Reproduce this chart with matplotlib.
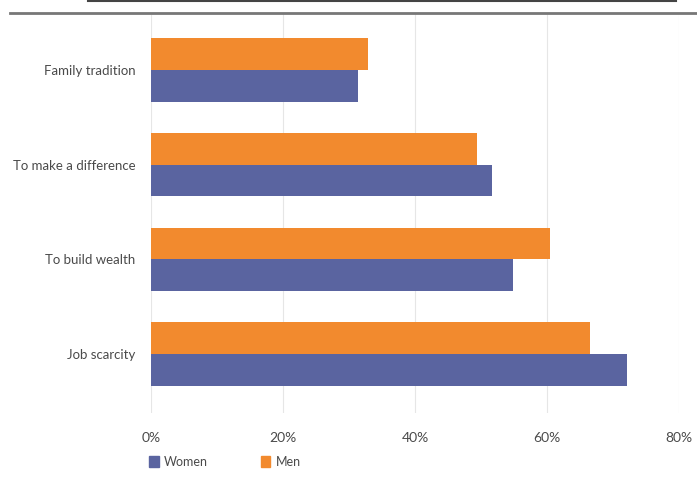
import matplotlib
matplotlib.use("Agg")
import matplotlib.pyplot as plt
from matplotlib.patches import Patch
from matplotlib.lines import Line2D
import numpy as np

categories = ["Family tradition", "To make a difference", "To build wealth", "Job scarcity"]
men = [32.9, 49.4, 60.5, 66.5]
women = [31.4, 51.7, 54.8, 72.1]
xticks = [0, 20, 40, 60, 80]
xtick_labels = ["0%", "20%", "40%", "60%", "80%"]

blue = "#5a64a0"
orange = "#f28a2e"
txt = "#4a4a4a"

plt.rcParams['font.family'] = ['Lato', 'DejaVu Sans']

fig = plt.figure(figsize=(6.97, 5.04), dpi=100)
W, H = 697, 504
ax = fig.add_axes([151 / W, 1 - 413 / H, (679 - 151) / W, 400 / H])

y = np.arange(len(categories))
h = 0.335
ax.barh(y - h / 2, men, height=h, color=orange, zorder=3)
ax.barh(y + h / 2, women, height=h, color=blue, zorder=3)

ax.set_xlim(0, 80)
ax.set_ylim(3.62, -0.6)
ax.set_xticks(xticks)
ax.set_xticklabels(xtick_labels)
ax.set_yticks(y)
ax.set_yticklabels(categories)
ax.grid(axis='x', color="#e6e6e6", linewidth=0.8, zorder=0)
for s in ax.spines.values():
    s.set_visible(False)
ax.tick_params(axis='y', length=0, colors=txt, labelsize=9.5, pad=11)
ax.tick_params(axis='x', length=0, colors=txt, labelsize=10, pad=14)
for lab in ax.get_xticklabels() + ax.get_yticklabels():
    lab.set_color(txt)

# top decorative lines
fig.add_artist(Line2D([10 / W, 1.0], [1 - 13 / H, 1 - 13 / H], color="#777777", linewidth=2.0))
fig.add_artist(Line2D([88 / W, 676 / W], [1 - 0.8 / H, 1 - 0.8 / H], color="#444444", linewidth=1.5))

handles = [Patch(color=blue, label="Women"), Patch(color=orange, label="Men")]
fig.legend(handles=handles, loc='center left', bbox_to_anchor=(138 / W, 1 - 462 / H),
           ncol=2, frameon=False, handlelength=0.75, handleheight=1.0, handletextpad=0.45,
           columnspacing=4.2, fontsize=9, labelcolor=txt)

fig.savefig("out.png", dpi=100)
